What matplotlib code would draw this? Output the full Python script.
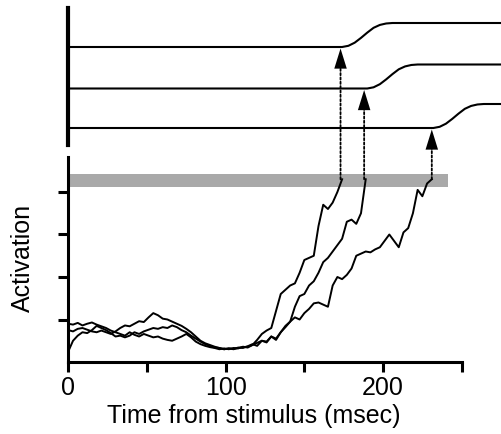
import numpy as np
import matplotlib
matplotlib.use("Agg")
from matplotlib import pyplot as plt
from matplotlib.patches import ConnectionPatch

plt.rcParams['font.family'] = ['Liberation Sans', 'DejaVu Sans']
plt.rcParams['font.size'] = 18

time_fast = np.arange(0, 175, 3)
act_fast = [0.90, 0.88, 0.92, 0.86, 0.90, 0.93, 0.88, 0.84, 0.80, 0.74,
            0.70, 0.66, 0.62, 0.70, 0.64, 0.60, 0.66, 0.62, 0.58, 0.60,
            0.55, 0.52, 0.50, 0.55, 0.60, 0.66, 0.58, 0.48, 0.42, 0.38,
            0.35, 0.33, 0.30, 0.32, 0.30, 0.33, 0.32, 0.36, 0.34, 0.40,
            0.52, 0.66, 0.74, 0.80, 1.20, 1.60, 1.70, 1.80, 1.85, 2.10,
            2.40, 2.45, 2.50, 3.20, 3.70, 3.60, 3.75, 4.00, 4.30]

time_mid = np.arange(0, 190, 3)
act_mid = [0.75, 0.72, 0.78, 0.80, 0.76, 0.72, 0.70, 0.74, 0.70, 0.66,
           0.72, 0.80, 0.86, 0.84, 0.90, 0.96, 0.94, 1.05, 1.15, 1.10,
           1.02, 1.00, 0.95, 0.90, 0.85, 0.78, 0.70, 0.60, 0.50, 0.44,
           0.40, 0.36, 0.33, 0.30, 0.32, 0.30, 0.33, 0.35, 0.36, 0.40,
           0.45, 0.50, 0.48, 0.60, 0.55, 0.70, 0.85, 0.95, 1.30, 1.55,
           1.60, 1.80, 1.90, 2.10, 2.35, 2.45, 2.60, 2.75, 2.90, 3.30,
           3.35, 3.25, 3.50, 4.30]

time_slow = np.arange(0, 232, 3)
act_slow = [0.25, 0.50, 0.62, 0.70, 0.68, 0.75, 0.85, 0.80, 0.75, 0.68,
            0.60, 0.62, 0.58, 0.62, 0.70, 0.66, 0.72, 0.76, 0.80, 0.78,
            0.82, 0.80, 0.86, 0.82, 0.75, 0.70, 0.62, 0.55, 0.48, 0.42,
            0.38, 0.34, 0.33, 0.30, 0.32, 0.31, 0.34, 0.33, 0.37, 0.42,
            0.38, 0.50, 0.46, 0.60, 0.52, 0.70, 0.82, 0.95, 1.05, 1.00,
            1.15, 1.25, 1.38, 1.40, 1.35, 1.30, 1.80, 2.00, 1.95, 2.05,
            2.20, 2.50, 2.55, 2.60, 2.58, 2.65, 2.70, 2.85, 3.00, 2.85,
            2.70, 3.05, 3.15, 3.50, 4.05, 3.90, 4.20, 4.30]

traces = [(time_fast, act_fast), (time_mid, act_mid), (time_slow, act_slow)]

threshold_lo, threshold_hi = 4.12, 4.42
threshold_end = 241
cross_times = [173, 188, 231]

# movement traces in the upper panel
onsets = [174, 190, 232]
baselines = [98, 56.5, 17]
rise_offsets = [0, 4, 8, 12, 16, 20, 24, 28, 32]
rise_shape = [0, 0.05, 0.18, 0.38, 0.60, 0.80, 0.92, 0.98, 1.0]
rise_height = 24

W, H = 501, 434
fig = plt.figure(figsize=(W / 100, H / 100), dpi=100)

x0, x250 = 68.3, 461.7
ax = fig.add_axes([x0 / W, (H - 362) / H, (x250 - x0) / W, (362 - 157) / H])
ax.set_xlim(0, 250)
ax.set_ylim(0, (362 - 157) / 42.5)

ax.fill_between([0, threshold_end], threshold_lo, threshold_hi,
                color='#a9a9a9', lw=0, zorder=1)
for t, a in traces:
    ax.plot(t, a, color='black', lw=1.4, zorder=3)

ax.spines['top'].set_visible(False)
ax.spines['right'].set_visible(False)
for s in ['left', 'bottom']:
    ax.spines[s].set_linewidth(2.2)
ax.set_xticks([0, 50, 100, 150, 200, 250])
ax.set_xticklabels(['0', '', '100', '', '200', ''])
ax.set_yticks([1, 2, 3, 4])
ax.set_yticklabels([])
ax.tick_params(direction='out', length=7, width=2.2, pad=3)
ax.set_xlabel('Time from stimulus (msec)')
ax.xaxis.set_label_coords(0.472, -0.205)
ax.set_ylabel('Activation')
ax.yaxis.set_label_coords(-0.085, 0.507)

# upper panel
top = fig.add_axes([x0 / W, (H - 145) / H, (W - x0) / W, (145 - 8) / H])
tmax = (W - x0) / ((x250 - x0) / 250)
top.set_xlim(0, tmax)
top.set_ylim(0, 137)
for onset, base in zip(onsets, baselines):
    xs = [0] + [onset + o for o in rise_offsets] + [tmax]
    ys = [base] + [base + rise_height * f for f in rise_shape] + [base + rise_height]
    top.plot(xs, ys, color='black', lw=1.5)
for s in ['top', 'right', 'bottom']:
    top.spines[s].set_visible(False)
top.spines['left'].set_linewidth(3)
top.set_xticks([])
top.set_yticks([])
top.patch.set_alpha(0)

# dotted arrows from threshold crossing up to movement onset
for tc, base in zip(cross_times, baselines):
    tip = base - 1.5
    con = ConnectionPatch(xyA=(tc, 4.3), coordsA=ax.transData,
                          xyB=(tc, tip - 16), coordsB=top.transData,
                          color='black', lw=1.3, linestyle=(0, (1.2, 1.2)))
    fig.add_artist(con)
    top.annotate('', xy=(tc, tip), xytext=(tc, tip - 20),
                 arrowprops=dict(arrowstyle='-|>,head_length=1.45,head_width=0.45',
                                 color='black', lw=0, shrinkA=0, shrinkB=0,
                                 mutation_scale=10),
                 annotation_clip=False)

fig.savefig('out.png', dpi=100)
